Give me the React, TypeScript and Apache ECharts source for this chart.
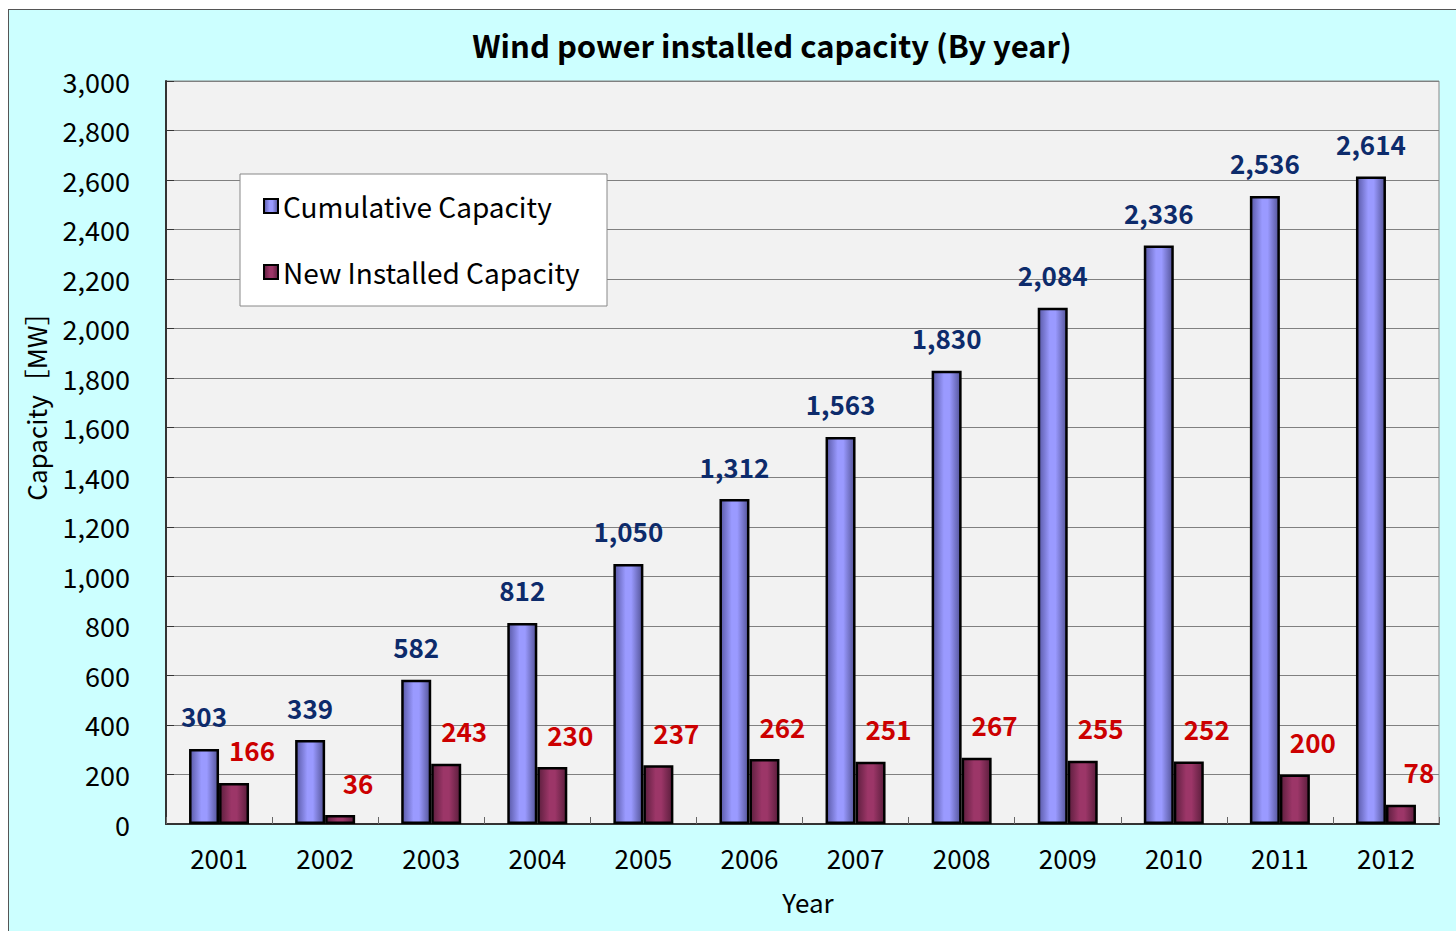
import React, { useEffect, useRef } from "react";
import * as echarts from "echarts";

const years = ["2001", "2002", "2003", "2004", "2005", "2006", "2007", "2008", "2009", "2010", "2011", "2012"];
const cumulative = [303, 339, 582, 812, 1050, 1312, 1563, 1830, 2084, 2336, 2536, 2614];
const newInstalled = [166, 36, 243, 230, 237, 262, 251, 267, 255, 252, 200, 78];
const seriesNames = ["Cumulative Capacity", "New Installed Capacity"];
const titleText = "Wind power installed capacity (By year)";
const yName = "Capacity［MW］";
const xName = "Year";

const FONT = "'Noto Sans CJK JP', 'Noto Sans', sans-serif";

export default function App() {
  const ref = useRef<HTMLDivElement>(null);
  useEffect(() => {
    if (!ref.current) return;
    const chart = echarts.init(ref.current, undefined, { renderer: "svg" });
    const fmt = (v: number) => v.toLocaleString("en-US");
    const blueGrad = new echarts.graphic.LinearGradient(0, 0, 1, 0, [
      { offset: 0, color: "#5a5aa8" },
      { offset: 0.4, color: "#9a9aff" },
      { offset: 0.6, color: "#9a9aff" },
      { offset: 1, color: "#55559a" },
    ]);
    const redGrad = new echarts.graphic.LinearGradient(0, 0, 1, 0, [
      { offset: 0, color: "#5e1f3f" },
      { offset: 0.4, color: "#9c3668" },
      { offset: 0.6, color: "#9c3668" },
      { offset: 1, color: "#5c1e3d" },
    ]);
    chart.setOption({
      animation: false,
      backgroundColor: "#ccffff",
      title: {
        text: titleText,
        left: 758,
        top: 14,
        textAlign: "center",
        textStyle: { fontFamily: FONT, fontSize: 31, fontWeight: "bold", color: "#000" },
      },
      graphic: [
        {
          type: "rect",
          shape: { x: 231, y: 164, width: 367, height: 132 },
          style: { fill: "#ffffff", stroke: "#888888", lineWidth: 1 },
          z: 5,
        },
        {
          type: "text",
          x: 26,
          y: 390,
          rotation: Math.PI / 2,
          style: {
            text: yName,
            fill: "#000",
            font: `26px ${FONT}`,
            textAlign: "center",
            textVerticalAlign: "middle",
          },
        },
        {
          type: "text",
          x: 799,
          y: 891,
          style: {
            text: xName,
            fill: "#000",
            font: `26px ${FONT}`,
            textAlign: "center",
            textVerticalAlign: "middle",
          },
        },
      ],
      legend: {
        orient: "vertical",
        left: 249,
        top: 176,
        itemGap: 36,
        itemWidth: 14,
        itemHeight: 14,
        icon: "rect",
        z: 6,
        textStyle: { fontFamily: FONT, fontSize: 28, color: "#000", lineHeight: 30 },
        itemStyle: { borderColor: "#000", borderWidth: 2 },
        data: seriesNames,
      },
      grid: {
        left: 157,
        top: 71,
        width: 1273,
        height: 743,
        show: true,
        backgroundColor: "#f2f2f2",
        borderColor: "#888888",
        borderWidth: 1,
      },
      xAxis: {
        type: "category",
        data: years,
        axisLine: { lineStyle: { color: "#333", width: 2 } },
        axisTick: { show: true, inside: true, length: 7, lineStyle: { color: "#666" } },
        axisLabel: { fontFamily: FONT, fontSize: 26, color: "#000", margin: 20 },
      },
      yAxis: {
        type: "value",
        min: 0,
        max: 3000,
        interval: 200,
        axisLine: { show: true, lineStyle: { color: "#333", width: 2 } },
        axisTick: { show: true, inside: true, length: 8, lineStyle: { color: "#333" } },
        splitLine: { lineStyle: { color: "#808080", width: 1 } },
        axisLabel: {
          fontFamily: FONT,
          fontSize: 27,
          color: "#000",
          margin: 36,
          formatter: (v: number) => fmt(v),
        },
      },
      series: [
        {
          name: seriesNames[0],
          type: "bar",
          data: cumulative,
          barWidth: 30,
          barGap: "0%",
          itemStyle: { color: blueGrad, borderColor: "#000", borderWidth: 2.5 },
          label: {
            show: true,
            position: "top",
            distance: 20,
            fontFamily: FONT,
            fontSize: 26,
            fontWeight: "bold",
            color: "#0d2b6b",
            formatter: (p: any) => fmt(p.value),
          },
        },
        {
          name: seriesNames[1],
          type: "bar",
          data: newInstalled,
          barWidth: 30,
          barGap: "0%",
          itemStyle: { color: redGrad, borderColor: "#000", borderWidth: 2.5 },
          label: {
            show: true,
            position: "top",
            distance: 20,
            offset: [18, 0],
            fontFamily: FONT,
            fontSize: 26,
            fontWeight: "bold",
            color: "#cc0000",
            formatter: (p: any) => fmt(p.value),
          },
        },
      ],
    });
    return () => chart.dispose();
  }, []);
  return (
    <div
      style={{
        position: "absolute",
        left: 8,
        top: 9,
        borderLeft: "1px solid #555",
        borderTop: "1px solid #555",
        background: "#ccffff",
      }}
    >
      <div ref={ref} style={{ width: 1447, height: 921 }} />
    </div>
  );
}
